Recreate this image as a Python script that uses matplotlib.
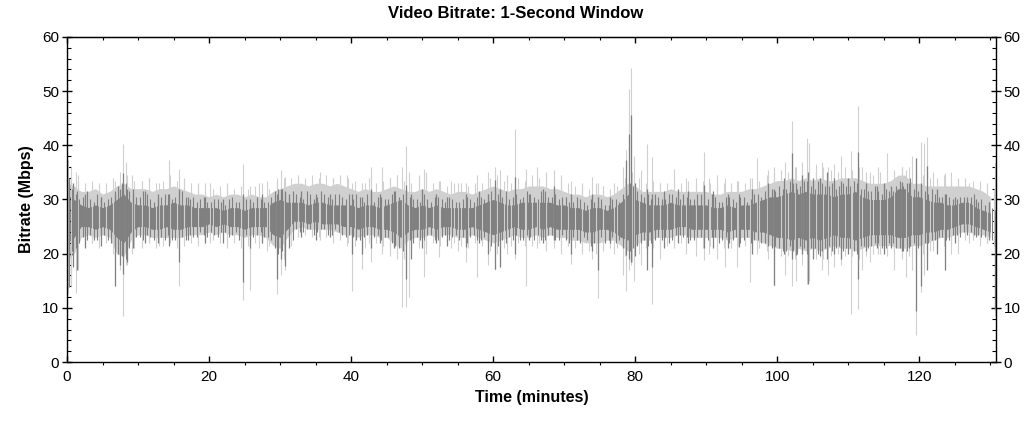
import numpy as np
import matplotlib
matplotlib.use("Agg")
from matplotlib import pyplot as plt
from matplotlib.ticker import MultipleLocator

# minute marks for the band envelopes (one per minute)
minutes = list(range(0, 131))

light_hi = [33.0, 32.5, 31.5, 31.5, 32.0, 31.0, 31.5, 32.5, 33.0, 32.0,
            32.0, 32.0, 31.5, 32.0, 32.0, 32.5, 32.0, 31.5, 31.0, 31.0,
            30.5, 31.0, 30.5, 31.0, 31.0, 30.5, 31.0, 30.5, 30.5, 31.5,
            32.0, 32.5, 33.0, 33.0, 32.5, 33.0, 33.0, 32.5, 33.0, 32.5,
            32.0, 31.5, 32.0, 31.5, 31.5, 32.0, 32.5, 32.0, 31.5, 31.5,
            32.0, 31.5, 32.0, 31.5, 31.0, 31.5, 31.5, 31.0, 31.5, 32.0,
            32.5, 32.0, 31.5, 32.0, 32.0, 32.5, 32.5, 32.5, 32.0, 32.0,
            31.5, 31.0, 31.0, 30.5, 31.0, 31.0, 30.5, 31.0, 32.0, 33.0,
            32.5, 31.5, 31.5, 31.5, 31.5, 32.0, 31.5, 31.5, 31.5, 31.5,
            31.5, 31.0, 31.0, 31.5, 31.5, 31.5, 32.0, 32.0, 32.5, 33.0,
            33.5, 33.5, 34.0, 33.5, 34.0, 33.5, 34.0, 33.5, 33.5, 34.0,
            34.0, 34.0, 33.5, 33.0, 33.0, 33.0, 33.5, 34.5, 34.5, 33.0,
            33.0, 32.5, 32.5, 32.5, 32.5, 32.5, 32.5, 32.5, 32.0, 31.5, 30.5]

dark_hi = [31.0, 30.0, 29.0, 28.5, 29.0, 28.5, 29.0, 30.0, 31.0, 29.5,
           29.0, 29.0, 28.5, 29.0, 29.0, 29.5, 29.0, 29.0, 28.5, 28.5,
           28.5, 28.5, 28.0, 28.5, 28.5, 28.0, 28.5, 28.5, 28.5, 29.5,
           30.0, 29.5, 29.5, 29.5, 29.0, 29.5, 29.5, 29.0, 29.0, 29.0,
           29.0, 28.5, 29.0, 29.0, 28.5, 29.0, 29.5, 30.0, 29.0, 28.5,
           29.0, 28.5, 29.0, 28.5, 28.5, 28.5, 28.5, 28.5, 29.0, 29.5,
           30.0, 29.5, 29.0, 29.0, 29.5, 29.5, 29.5, 29.5, 29.5, 29.0,
           29.0, 28.5, 28.5, 28.0, 28.5, 28.5, 28.0, 28.5, 29.5, 31.0,
           30.0, 29.5, 29.0, 29.0, 29.0, 29.5, 29.0, 29.0, 29.0, 29.0,
           29.0, 28.5, 28.5, 29.0, 28.5, 29.0, 29.0, 29.5, 30.0, 30.5,
           30.5, 31.0, 31.5, 31.0, 31.5, 31.0, 31.0, 31.0, 30.5, 31.0,
           31.0, 31.5, 30.5, 30.0, 30.0, 30.0, 30.5, 32.0, 32.0, 30.5,
           30.5, 30.0, 29.5, 29.5, 29.0, 29.0, 29.5, 29.5, 28.5, 28.0, 27.5]

dark_lo = [22.0, 23.0, 25.0, 25.0, 24.5, 25.0, 24.5, 23.0, 22.0, 24.0,
           25.0, 25.0, 24.5, 24.5, 25.0, 24.5, 24.5, 25.0, 25.0, 25.0,
           25.5, 25.0, 25.5, 25.0, 25.0, 24.5, 25.0, 25.0, 25.0, 23.5,
           23.0, 24.5, 26.0, 26.0, 25.5, 26.0, 25.5, 25.5, 25.5, 25.0,
           25.0, 24.5, 25.0, 25.0, 24.5, 24.5, 24.0, 23.0, 24.0, 24.5,
           24.5, 25.0, 24.5, 25.0, 25.0, 24.5, 24.5, 25.0, 24.5, 24.0,
           23.5, 24.0, 24.5, 25.0, 24.5, 24.5, 25.0, 24.5, 25.0, 24.5,
           24.5, 24.5, 24.5, 24.0, 24.0, 24.5, 24.5, 24.0, 23.0, 22.5,
           23.5, 24.0, 24.0, 24.5, 24.5, 24.5, 25.0, 25.0, 24.5, 24.5,
           24.5, 24.5, 24.5, 24.0, 24.5, 24.5, 24.5, 24.0, 24.0, 23.5,
           23.0, 23.0, 22.5, 23.0, 22.5, 23.0, 22.5, 23.0, 23.5, 23.0,
           23.0, 22.5, 23.0, 23.5, 23.5, 23.5, 23.5, 23.0, 23.0, 23.5,
           23.5, 24.0, 24.0, 24.5, 24.5, 25.0, 25.5, 25.5, 25.0, 24.5, 24.0]

light_lo = [19.0, 20.0, 23.0, 23.5, 23.0, 23.5, 23.0, 20.0, 19.5, 22.5,
            23.5, 23.5, 23.0, 23.0, 23.0, 23.0, 23.0, 23.5, 23.5, 23.5,
            24.0, 23.5, 24.0, 23.5, 23.5, 23.0, 23.5, 23.5, 23.0, 21.5,
            21.0, 23.0, 24.5, 25.0, 24.5, 24.5, 24.5, 24.5, 24.0, 23.5,
            23.5, 23.0, 23.5, 23.5, 23.0, 23.0, 22.0, 21.0, 22.5, 23.0,
            23.0, 23.5, 23.0, 23.5, 23.5, 23.0, 23.0, 23.5, 23.0, 22.5,
            22.0, 22.5, 23.0, 23.5, 23.0, 23.0, 23.5, 23.0, 23.5, 23.0,
            23.0, 22.5, 22.5, 22.0, 22.0, 22.0, 22.5, 22.5, 21.5, 20.5,
            21.5, 22.5, 22.5, 23.0, 23.0, 23.0, 23.5, 23.5, 23.0, 23.0,
            23.0, 23.0, 23.0, 22.5, 23.0, 23.0, 23.0, 22.5, 22.0, 21.5,
            21.0, 21.0, 20.5, 21.0, 20.5, 21.0, 20.5, 21.0, 21.5, 21.0,
            21.0, 20.5, 21.0, 21.5, 21.5, 21.5, 21.5, 21.0, 21.0, 21.5,
            21.5, 22.0, 22.5, 23.0, 23.0, 23.5, 24.0, 24.0, 23.5, 23.5, 23.0]

# dense strands that give the band its ragged edge (one pair per minute)
dark_strand_a_hi = [33.5, 31.0, 30.5, 30.0, 31.0, 29.5, 30.5, 32.5, 33.0, 31.0,
                    30.5, 31.0, 29.5, 30.5, 31.0, 30.5, 31.5, 30.0, 29.5, 30.5,
                    29.5, 30.0, 29.0, 30.5, 29.5, 30.0, 29.5, 30.0, 29.5, 31.5,
                    32.0, 30.5, 31.0, 30.0, 31.0, 30.5, 31.0, 30.0, 31.0, 30.0,
                    30.0, 30.5, 31.0, 29.5, 30.5, 30.0, 31.5, 31.0, 30.5, 30.0,
                    31.0, 29.5, 30.5, 29.5, 30.0, 29.5, 30.5, 29.5, 30.5, 31.0,
                    32.0, 30.5, 30.0, 31.0, 30.5, 31.0, 30.0, 31.5, 30.5, 30.0,
                    30.5, 29.5, 30.0, 29.0, 29.5, 30.0, 29.0, 30.0, 31.0, 33.0,
                    31.5, 30.5, 30.0, 30.5, 30.0, 31.0, 30.0, 30.5, 30.0, 31.0,
                    30.0, 30.5, 29.5, 30.5, 29.5, 30.5, 30.0, 31.0, 31.5, 32.0,
                    32.5, 32.0, 33.0, 32.5, 33.5, 32.0, 33.0, 32.5, 32.0, 33.0,
                    32.5, 33.0, 32.0, 31.5, 31.5, 32.0, 31.5, 33.5, 33.0, 32.0,
                    32.0, 31.0, 31.0, 30.5, 30.5, 30.0, 30.5, 30.5, 29.5, 29.0, 28.5]
dark_strand_a_lo = [18.5, 21.0, 23.0, 23.5, 22.5, 23.5, 22.0, 20.0, 19.0, 22.5,
                    23.0, 23.5, 22.5, 23.0, 23.5, 22.5, 23.0, 23.5, 23.0, 23.5,
                    24.0, 23.0, 24.0, 23.5, 22.5, 23.5, 23.0, 24.0, 23.0, 21.0,
                    20.5, 23.0, 24.5, 24.0, 24.5, 24.0, 24.5, 23.5, 24.0, 23.0,
                    23.0, 22.5, 23.5, 23.0, 22.5, 23.0, 21.5, 20.5, 22.5, 23.0,
                    22.5, 23.5, 22.5, 23.5, 23.0, 22.5, 22.0, 23.5, 22.5, 22.0,
                    21.0, 22.5, 23.0, 23.5, 22.5, 23.0, 23.5, 22.5, 23.5, 22.5,
                    22.5, 23.0, 22.0, 22.5, 22.0, 23.0, 22.5, 22.0, 21.0, 20.5,
                    21.5, 22.5, 22.0, 23.0, 23.0, 22.5, 23.5, 23.0, 22.5, 23.0,
                    22.5, 23.0, 22.5, 22.0, 23.0, 22.5, 22.0, 22.5, 22.0, 21.0,
                    21.0, 20.5, 20.5, 21.5, 20.0, 21.0, 20.5, 21.5, 21.0, 20.5,
                    21.0, 20.0, 21.5, 21.5, 22.0, 21.0, 22.0, 21.0, 20.5, 22.0,
                    21.5, 22.0, 22.5, 23.0, 22.5, 23.5, 24.0, 24.0, 23.5, 23.0, 22.5]
dark_strand_b_hi = [32.0, 30.0, 31.5, 29.5, 30.5, 30.0, 31.5, 33.0, 31.5, 30.5,
                    31.5, 30.0, 30.5, 31.0, 30.0, 31.5, 30.5, 30.5, 30.0, 29.5,
                    30.0, 29.5, 30.0, 29.5, 30.0, 29.0, 30.5, 29.5, 30.5, 32.0,
                    31.0, 31.5, 30.5, 31.5, 30.0, 31.5, 30.5, 31.0, 30.5, 31.0,
                    31.0, 29.5, 30.5, 30.5, 30.0, 31.0, 30.5, 32.0, 30.0, 29.5,
                    30.0, 30.5, 30.0, 30.5, 29.5, 30.0, 30.0, 30.5, 30.0, 31.5,
                    31.0, 31.5, 30.5, 30.0, 31.5, 30.5, 31.5, 30.5, 31.0, 30.5,
                    29.5, 30.5, 29.5, 30.0, 30.5, 29.0, 30.0, 29.5, 32.0, 32.5,
                    31.0, 31.0, 31.0, 30.0, 31.0, 30.5, 31.0, 30.0, 31.0, 30.5,
                    31.0, 29.5, 30.5, 30.0, 30.5, 29.5, 31.0, 30.5, 32.0, 31.5,
                    32.0, 33.5, 32.0, 33.5, 32.5, 33.5, 32.5, 33.0, 32.5, 32.5,
                    33.5, 32.0, 31.5, 32.5, 31.0, 31.5, 32.5, 32.5, 34.0, 31.5,
                    31.5, 32.0, 30.5, 31.0, 30.0, 30.5, 30.0, 31.0, 30.0, 29.5, 28.0]
dark_strand_b_lo = [20.5, 22.0, 22.5, 22.5, 23.5, 22.5, 21.0, 19.5, 21.0, 23.0,
                    22.5, 23.0, 23.5, 22.5, 22.5, 23.5, 22.5, 23.0, 24.0, 23.0,
                    23.5, 24.0, 23.0, 24.0, 23.0, 22.5, 23.5, 23.0, 22.5, 20.0,
                    21.5, 22.5, 24.0, 24.5, 23.5, 24.5, 23.5, 24.5, 23.5, 23.5,
                    22.5, 23.0, 22.5, 23.5, 23.0, 22.0, 21.0, 21.5, 22.0, 22.5,
                    23.5, 22.5, 23.0, 22.5, 23.5, 23.0, 23.0, 22.5, 23.0, 21.5,
                    21.5, 22.0, 22.5, 22.5, 23.5, 22.5, 22.5, 23.5, 22.5, 23.5,
                    22.0, 22.5, 23.0, 21.5, 22.5, 22.0, 23.0, 22.5, 20.5, 21.0,
                    22.0, 21.5, 22.5, 22.5, 22.0, 23.5, 23.0, 22.5, 23.0, 22.5,
                    23.0, 22.0, 23.0, 22.5, 22.0, 23.0, 22.5, 22.0, 21.5, 21.5,
                    20.5, 21.5, 20.0, 21.0, 21.0, 20.0, 21.0, 20.5, 21.5, 21.0,
                    20.5, 21.5, 21.0, 22.0, 21.0, 22.0, 21.0, 20.5, 21.5, 21.0,
                    22.0, 22.5, 23.0, 22.5, 23.5, 23.0, 24.5, 23.5, 23.0, 23.5, 22.0]
light_strand_hi = [35.0, 33.5, 33.0, 33.5, 32.5, 33.0, 34.0, 35.0, 34.5, 33.5,
                   33.5, 34.0, 33.0, 33.5, 34.5, 33.5, 34.0, 33.0, 32.5, 33.0,
                   32.0, 32.5, 33.0, 32.0, 32.5, 32.0, 32.5, 33.0, 32.0, 33.5,
                   34.0, 34.0, 34.5, 34.0, 34.5, 34.0, 34.5, 34.0, 34.5, 34.0,
                   33.5, 33.0, 34.0, 33.0, 33.5, 34.0, 34.5, 33.5, 33.0, 33.5,
                   34.0, 33.0, 33.5, 32.5, 33.0, 33.0, 32.5, 33.0, 33.0, 34.0,
                   34.5, 33.5, 33.0, 34.0, 33.5, 34.5, 34.0, 34.5, 33.5, 33.5,
                   33.0, 32.5, 32.5, 32.0, 33.0, 32.5, 32.0, 32.5, 34.0, 35.0,
                   34.0, 33.0, 33.5, 33.0, 33.0, 34.0, 33.0, 33.5, 33.0, 33.5,
                   33.0, 32.5, 33.0, 33.0, 33.5, 33.0, 34.0, 33.5, 34.5, 35.0,
                   35.5, 35.0, 36.0, 35.5, 36.0, 35.0, 36.0, 35.5, 35.0, 36.0,
                   35.5, 36.0, 35.0, 34.5, 35.0, 34.5, 35.5, 36.0, 36.0, 35.0,
                   34.5, 34.0, 34.0, 34.5, 33.5, 34.0, 34.0, 33.5, 33.5, 33.0, 32.0]
light_strand_lo = [15.0, 18.0, 21.5, 22.0, 21.5, 22.0, 20.0, 17.0, 18.0, 21.0,
                   21.5, 22.0, 21.0, 21.5, 22.0, 21.0, 21.5, 22.0, 22.0, 22.0,
                   22.5, 22.0, 22.5, 22.0, 21.0, 21.5, 22.0, 22.0, 21.5, 19.5,
                   19.0, 21.5, 23.0, 23.5, 23.0, 23.0, 23.0, 23.0, 22.5, 22.0,
                   21.5, 21.5, 22.0, 22.0, 21.5, 21.0, 20.0, 19.0, 21.0, 21.5,
                   21.0, 22.0, 21.5, 22.0, 22.0, 21.5, 21.0, 22.0, 21.5, 20.5,
                   20.0, 21.0, 21.5, 22.0, 21.5, 21.5, 22.0, 21.5, 22.0, 21.5,
                   21.5, 21.0, 20.5, 20.5, 20.0, 20.5, 21.0, 21.0, 19.5, 18.5,
                   20.0, 21.0, 21.0, 21.5, 21.5, 21.5, 22.0, 22.0, 21.5, 21.0,
                   21.5, 21.5, 21.0, 21.0, 21.5, 21.5, 21.0, 21.0, 20.5, 20.0,
                   19.5, 19.5, 19.0, 19.5, 19.0, 19.5, 19.0, 19.5, 20.0, 19.5,
                   19.5, 19.0, 19.5, 20.0, 20.0, 20.0, 20.0, 19.5, 19.5, 20.0,
                   20.0, 20.5, 21.0, 21.5, 21.5, 22.0, 22.5, 22.5, 22.0, 22.0, 21.5]

# single-second spikes: time (min), low, high
light_spike_t = [0.2, 0.6, 1.2, 1.6, 3.5, 4.5, 6.8, 7.9, 8.3, 9.2, 10.5, 11.5, 13.0, 14.3,
                 15.7, 16.5, 18.5, 20.2, 22.5, 24.8, 25.7, 27.0, 28.2, 29.6, 30.2, 30.7,
                 32.5, 35.6, 37.5, 39.4, 40.1, 41.5, 41.9, 42.8, 44.3, 45.5, 46.5, 47.2,
                 47.7, 48.2, 49.5, 50.2, 50.6, 52.4, 54.0, 55.0, 56.2, 57.7, 59.3, 60.3,
                 61.0, 62.0, 63.1, 64.6, 66.2, 67.5, 68.5, 69.5, 71.0, 72.5, 73.9, 74.8,
                 75.5, 77.0, 78.3, 78.7, 79.1, 79.4, 79.8, 80.8, 81.6, 82.4, 83.5, 85.4,
                 87.1, 88.5, 89.7, 90.4, 91.5, 92.6, 94.4, 96.2, 97.2, 98.7, 99.6, 101.1,
                 102.1, 102.6, 103.5, 104.2, 104.5, 105.5, 106.3, 107.2, 108.0, 109.0,
                 110.4, 111.4, 112.0, 113.0, 114.2, 115.4, 116.4, 117.5, 118.1, 119.0,
                 119.6, 120.2, 120.7, 121.1, 122.0, 123.6, 124.5, 125.5, 127.0, 128.5,
                 129.5, 130.6]
light_spike_lo = [12.5, 14.0, 12.8, 17.0, 22.0, 21.0, 14.0, 8.5, 18.0, 20.0, 21.0, 22.0, 21.5, 23.0,
                  14.0, 22.0, 21.5, 22.0, 21.0, 11.4, 13.3, 21.0, 20.5, 12.6, 16.0, 17.0,
                  23.0, 22.5, 22.0, 21.5, 13.2, 17.2, 21.0, 18.5, 20.0, 19.5, 19.0, 10.1,
                  10.1, 12.0, 21.0, 15.7, 20.0, 19.4, 21.0, 20.5, 18.5, 15.7, 18.0, 17.0,
                  17.5, 20.0, 19.1, 14.1, 21.0, 20.5, 21.0, 20.0, 18.1, 20.0, 19.0, 11.9,
                  21.0, 20.0, 16.0, 13.2, 17.0, 18.0, 15.0, 18.0, 20.0, 10.7, 19.0, 21.0,
                  20.0, 19.5, 18.8, 20.0, 19.0, 17.5, 17.5, 14.8, 20.0, 19.0, 14.1, 16.0,
                  14.0, 15.0, 18.0, 14.4, 15.0, 19.0, 17.0, 16.0, 17.5, 18.0,
                  8.9, 9.8, 17.0, 18.5, 20.0, 19.5, 17.0, 19.0, 15.7, 17.0,
                  4.9, 13.0, 16.0, 18.5, 20.5, 17.0, 20.0, 20.0, 22.0, 21.5,
                  22.0, 8.5]
light_spike_hi = [37.3, 36.0, 35.0, 34.5, 32.5, 33.0, 33.5, 40.2, 37.0, 34.5, 33.5, 34.0, 33.0, 37.2,
                  35.7, 33.5, 33.0, 33.0, 32.5, 36.5, 32.5, 33.0, 33.5, 34.0, 35.5, 34.2,
                  34.0, 35.0, 34.0, 34.5, 33.0, 33.0, 33.0, 36.0, 36.0, 34.0, 34.5, 36.0,
                  39.9, 35.0, 34.5, 35.7, 35.0, 33.5, 33.5, 33.0, 33.0, 34.5, 35.0, 36.0,
                  35.5, 34.5, 43.1, 35.7, 36.0, 35.0, 35.5, 34.5, 33.5, 33.0, 34.2, 33.0,
                  32.5, 33.0, 36.0, 39.1, 50.4, 54.3, 38.0, 35.5, 40.2, 37.9, 33.0, 35.7,
                  33.9, 34.0, 38.8, 34.0, 34.5, 34.0, 33.5, 34.0, 37.6, 35.5, 36.0, 37.0,
                  44.5, 36.0, 37.0, 41.3, 40.5, 36.5, 37.0, 36.0, 36.5, 38.0,
                  39.0, 47.3, 36.0, 35.0, 36.0, 38.5, 35.0, 36.0, 35.5, 38.0,
                  37.6, 40.7, 40.5, 41.5, 35.0, 34.8, 35.0, 33.6, 33.0, 33.0,
                  32.0, 37.0]

dark_spike_t = [0.3, 0.9, 1.4, 2.6, 4.8, 6.8, 7.4, 7.9, 8.4, 9.3, 11.0, 12.8, 14.3, 15.7,
                17.0, 19.5, 22.0, 24.8, 25.8, 27.5, 29.6, 30.2, 30.7, 31.3, 33.0, 35.0,
                37.0, 40.1, 41.5, 42.8, 44.0, 46.0, 47.7, 48.4, 50.0, 52.0, 53.5, 56.2,
                58.0, 59.3, 60.3, 61.0, 63.1, 65.1, 67.0, 68.5, 71.0, 73.9, 74.8, 76.5,
                78.7, 79.1, 79.4, 80.0, 81.6, 82.4, 84.0, 86.0, 87.5, 89.7, 91.0, 93.0,
                94.6, 96.5, 98.7, 99.6, 101.0, 102.1, 102.6, 103.5, 104.3, 105.0, 106.0,
                107.0, 108.0, 109.0, 110.0, 111.4, 112.5, 114.0, 115.0, 116.0, 117.5,
                118.5, 119.6, 120.2, 121.1, 122.5, 123.6, 125.0, 126.7, 128.0, 129.8, 130.7]
dark_spike_lo = [13.9, 17.5, 17.0, 21.0, 21.5, 14.0, 18.0, 16.3, 18.5, 21.0, 22.0, 22.0, 21.5, 18.5,
                 22.5, 22.0, 22.0, 14.8, 21.0, 22.0, 15.4, 19.0, 17.8, 21.0, 23.0, 22.5,
                 23.0, 20.0, 20.0, 21.0, 22.0, 21.0, 15.4, 19.0, 21.0, 22.0, 21.5, 21.2,
                 22.0, 20.0, 17.2, 17.5, 20.0, 22.5, 22.0, 22.5, 20.0, 20.5, 16.9, 22.0,
                 19.7, 19.0, 18.5, 19.5, 17.0, 17.5, 21.0, 22.0, 22.0, 21.0, 21.0, 21.0,
                 21.2, 20.0, 22.2, 14.2, 20.0, 19.0, 19.7, 20.0, 14.4, 19.0, 19.5,
                 19.0, 20.0, 19.0, 20.0, 15.4, 20.5, 21.0, 20.0, 21.0, 20.5,
                 21.0, 9.5, 14.1, 17.0, 20.0, 16.9, 22.0, 23.5, 23.0, 22.5, 9.8]
dark_spike_hi = [34.0, 33.0, 31.5, 31.0, 30.5, 31.0, 32.0, 34.8, 32.0, 32.0, 31.5, 31.0, 31.0, 32.0,
                 30.5, 30.5, 30.0, 31.0, 30.0, 31.0, 31.0, 32.0, 31.5, 31.0, 31.5, 31.0,
                 31.0, 31.0, 30.5, 32.0, 31.0, 31.5, 32.7, 31.0, 32.0, 31.0, 30.5, 31.0,
                 31.5, 31.0, 33.6, 32.0, 34.2, 31.0, 32.0, 32.5, 31.0, 31.0, 30.5, 30.5,
                 37.3, 42.0, 45.6, 33.0, 32.0, 31.0, 31.5, 32.0, 31.5, 32.7, 31.5, 31.0,
                 31.0, 32.0, 33.0, 32.0, 34.0, 38.5, 33.0, 34.5, 35.0, 34.0, 34.0,
                 35.0, 34.0, 33.5, 34.0, 38.8, 33.0, 32.5, 33.0, 32.5, 33.3,
                 33.0, 37.6, 33.0, 36.2, 32.0, 31.0, 30.5, 30.5, 30.0, 29.5, 28.0]

LIGHT = '#d0d0d0'
DARK = '#808080'

plt.rcParams['font.family'] = ['Liberation Sans', 'DejaVu Sans']

fig = plt.figure(figsize=(10.32, 4.23), dpi=100)
ax = fig.add_axes([67 / 1032, 1 - 362 / 423, (996 - 67) / 1032, (362 - 37) / 423])

strand_a = [m + 0.25 for m in minutes]
strand_b = [m + 0.75 for m in minutes]
strand_c = [m + 0.5 for m in minutes]

ax.fill_between(minutes, light_lo, light_hi, color=LIGHT, linewidth=0)
ax.vlines(strand_c, light_strand_lo, light_strand_hi, color=LIGHT, linewidth=0.8)
ax.vlines(light_spike_t, light_spike_lo, light_spike_hi, color=LIGHT, linewidth=0.8)
ax.fill_between(minutes, dark_lo, dark_hi, color=DARK, linewidth=0)
ax.vlines(strand_a, dark_strand_a_lo, dark_strand_a_hi, color=DARK, linewidth=0.8)
ax.vlines(strand_b, dark_strand_b_lo, dark_strand_b_hi, color=DARK, linewidth=0.8)
ax.vlines(dark_spike_t, dark_spike_lo, dark_spike_hi, color=DARK, linewidth=0.9)

ax.set_xlim(0, 130.8)
ax.set_ylim(0, 60)
ax.xaxis.set_major_locator(MultipleLocator(20))
ax.xaxis.set_minor_locator(MultipleLocator(5))
ax.yaxis.set_major_locator(MultipleLocator(10))
ax.yaxis.set_minor_locator(MultipleLocator(2))

ax.tick_params(axis='x', which='major', direction='in', length=4, width=1, labelsize=11, pad=6)
ax.tick_params(axis='x', which='minor', direction='out', length=2.5, width=0.8)
ax.tick_params(axis='y', which='major', direction='inout', length=7, width=1,
               left=True, right=True, labelleft=True, labelright=True, labelsize=11, pad=2)
ax.tick_params(axis='y', which='minor', direction='in', length=3, width=0.8, left=True, right=True)

top = ax.secondary_xaxis('top')
top.xaxis.set_major_locator(MultipleLocator(20))
top.xaxis.set_minor_locator(MultipleLocator(5))
top.tick_params(which='major', direction='in', length=4, width=1, labeltop=False)
top.tick_params(which='minor', direction='in', length=2.5, width=0.8)

for s in ax.spines.values():
    s.set_linewidth(1)

ax.set_xlabel('Time (minutes)', fontsize=11.5, fontweight='bold', labelpad=4)
ax.set_ylabel('Bitrate (Mbps)', fontsize=11.5, fontweight='bold', labelpad=6)
fig.suptitle('Video Bitrate: 1-Second Window', fontsize=12, fontweight='bold', y=0.985)

fig.savefig('out.png', dpi=100)
